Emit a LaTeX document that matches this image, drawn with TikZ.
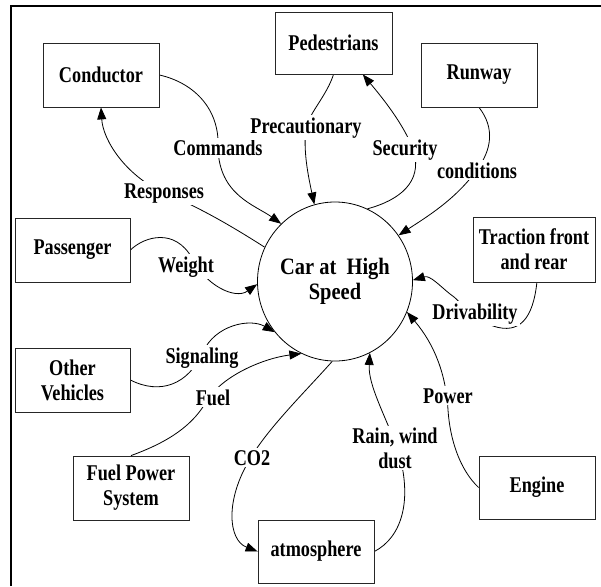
\documentclass[tikz,border=0pt]{standalone}
\usepackage{fontspec}
\setmainfont{Liberation Serif}[FakeStretch=0.81]
\newfontfamily\centerfont{Liberation Serif}[FakeStretch=0.87]
\usetikzlibrary{arrows.meta,shapes.geometric,backgrounds}
\begin{document}
\begin{tikzpicture}[x=1pt,y=-1pt,
  every node/.style={font=\fontsize{22.5}{25}\selectfont\bfseries, align=center},
  box/.style={draw=black!85, line width=0.8pt, inner sep=0pt, minimum width=116pt, minimum height=64pt},
  lbl/.style={fill=white, inner sep=2pt, anchor=base},
  wire/.style={line width=0.8pt},
  conn/.style={line width=0.8pt, -{Triangle[length=12pt,width=9pt]}}]
\useasboundingbox (0,0) rectangle (601,586);
\draw[line width=2.5pt] (11,586) -- (11,6) -- (601,6);
% boxes
\node[box] (cond) at (101,75) {Conductor};
\node[box, minimum width=117pt, minimum height=62pt] (ped) at (333.5,43) {Pedestrians};
\node[box] (run) at (479,75) {Runway};
\node[box, minimum width=122pt, minimum height=65pt] (trac) at (534,249.5) {Traction front\\and rear};
\node[box, minimum width=115pt] (pass) at (72.5,250) {Passenger};
\node[box, minimum width=115pt] (other) at (72.5,380) {Other\\Vehicles};
\node[box] (fps) at (131,488) {Fuel Power\\System};
\node[box, minimum height=63pt] (atm) at (316,551.5) {atmosphere};
\node[box, minimum height=63pt] (eng) at (537,487.5) {Engine};
\node[draw, ellipse, line width=0.8pt, minimum width=146pt, minimum height=159pt, inner sep=0pt,
  font=\centerfont\fontsize{23.5}{25}\selectfont\bfseries] (car) at (335,281.5) {Car at~ High\\Speed};
% labels
\node[lbl] (lcmd) at (218,155.5) {Commands};
\node[lbl] (lpre) at (306,133) {Precautionary};
\node[lbl] (lsec) at (405,155) {Security};
\node[lbl] (lcon) at (477,178) {conditions};
\node[lbl] (lres) at (164,198) {Responses};
\node[lbl] (lwei) at (186,272) {Weight};
\node[lbl] (ldri) at (475,319) {Drivability};
\node[lbl] (lsig) at (202,363) {Signaling};
\node[lbl] (lfue) at (213,405) {Fuel};
\node[lbl] (lpow) at (448,403) {Power};
\node[lbl] (lco) at (252,465) {CO2};
\node[fill=white, inner sep=2pt] (lrai) at (395,448) {Rain, wind\\dust};
% connectors
\begin{scope}[on background layer]
\draw[conn] (cond.east) .. controls (195,83) and (220,110) .. (lcmd.center) .. controls (219,195) and (255,205) .. (car.133);
\draw[conn] (car.154) .. controls (230,225) and (195,205) .. (lres.center) .. controls (125,175) and (103,140) .. (cond.south);
\draw[conn] (ped.south) .. controls (327,95) and (310,112) .. (lpre.center) .. controls (303,150) and (308,175) .. (car.105);
\draw[conn] (car.66) .. controls (400,200) and (422,182) .. (414,152) .. controls (405,125) and (380,95) .. (ped.-47);
\draw[conn] (run.south) .. controls (495,128) and (492,150) .. (476,171) .. controls (455,200) and (425,218) .. (car.36);
\draw[conn] (pass.east) .. controls (145,236) and (175,228) .. (192,258) .. controls (205,285) and (235,300) .. (car.182);
\draw[conn] (trac.-85) .. controls (533,318) and (520,335) .. (493,326) .. controls (470,318) and (460,300) .. (450,294) .. controls (440,286) and (430,275) .. (car.1);
\draw[conn] (eng.west) .. controls (460,470) and (450,440) .. (448,410) .. controls (446,375) and (435,345) .. (car.-23);
\draw[conn] (other.east) .. controls (160,395) and (188,385) .. (203,352) .. controls (215,325) and (250,318) .. (car.220);
\draw[conn] (fps.north) .. controls (160,445) and (190,430) .. (206,402) .. controls (222,375) and (265,358) .. (car.245);
\draw[conn] (car.268) .. controls (305,392) and (268,428) .. (250,459) .. controls (225,500) and (228,540) .. (atm.west);
\draw[conn] (atm.east) .. controls (402,537) and (413,500) .. (398,450) .. controls (385,415) and (368,385) .. (car.-64);
\end{scope}
\end{tikzpicture}
\end{document}
